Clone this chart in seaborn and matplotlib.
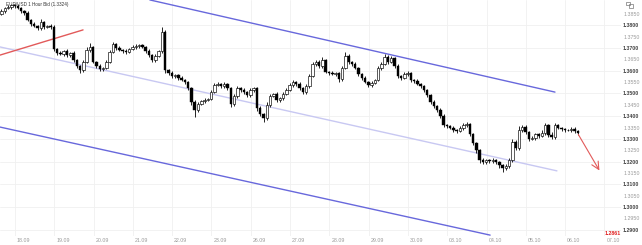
import numpy as np
import pandas as pd
import matplotlib
matplotlib.use("Agg")
import matplotlib.pyplot as plt
import seaborn as sns
from matplotlib.transforms import ScaledTranslation
from matplotlib.patches import Rectangle

# ---------------- data (2-hour candles, EUR/USD) ----------------
first_open = 1.3850
closes = [
    1.3863, 1.3877, 1.3881, 1.3890, 1.3885, 1.3877, 1.3863, 1.3854, 1.3824, 1.3806, 1.3797, 1.3788,
    1.3815, 1.3793, 1.3797, 1.3793, 1.3696, 1.3678, 1.3674, 1.3687, 1.3669, 1.3678, 1.3647, 1.3621,
    1.3603, 1.3639, 1.3692, 1.3705, 1.3639, 1.3621, 1.3608, 1.3612, 1.3639, 1.3683, 1.3718, 1.3700,
    1.3692, 1.3687, 1.3683, 1.3696, 1.3705, 1.3709, 1.3714, 1.3705, 1.3687, 1.3669, 1.3647, 1.3665,
    1.3687, 1.3771, 1.3603, 1.3590, 1.3577, 1.3581, 1.3568, 1.3559, 1.3551, 1.3524, 1.3463, 1.3427,
    1.3454, 1.3467, 1.3471, 1.3476, 1.3507, 1.3537, 1.3542, 1.3533, 1.3542, 1.3524, 1.3454, 1.3489,
    1.3524, 1.3515, 1.3507, 1.3493, 1.3515, 1.3524, 1.3436, 1.3410, 1.3392, 1.3449, 1.3489, 1.3498,
    1.3471, 1.3480, 1.3498, 1.3515, 1.3537, 1.3551, 1.3542, 1.3524, 1.3507, 1.3533, 1.3577, 1.3630,
    1.3639, 1.3621, 1.3647, 1.3595, 1.3590, 1.3586, 1.3590, 1.3564, 1.3612, 1.3665, 1.3639, 1.3630,
    1.3612, 1.3586, 1.3568, 1.3551, 1.3537, 1.3546, 1.3559, 1.3612, 1.3630, 1.3661, 1.3639, 1.3656,
    1.3621, 1.3577, 1.3568, 1.3586, 1.3590, 1.3559, 1.3555, 1.3542, 1.3533, 1.3515, 1.3493, 1.3463,
    1.3445, 1.3427, 1.3401, 1.3361, 1.3357, 1.3348, 1.3339, 1.3335, 1.3348, 1.3361, 1.3365, 1.3321,
    1.3282, 1.3251, 1.3207, 1.3198, 1.3207, 1.3203, 1.3207, 1.3198, 1.3185, 1.3172, 1.3181, 1.3207,
    1.3286, 1.3260, 1.3339, 1.3352, 1.3330, 1.3300, 1.3304, 1.3321, 1.3313, 1.3326, 1.3361, 1.3317,
    1.3308, 1.3361, 1.3348, 1.3343, 1.3339, 1.3339, 1.3343, 1.3335, 1.3324,
]
wick_up_pips = [
    8, 6, 10, 6, 5, 8, 4, 6, 9, 5, 7, 6,
    14, 6, 5, 7, 9, 6, 8, 5, 10, 6, 7, 5,
    6, 8, 12, 18, 6, 5, 7, 6, 8, 10, 9, 6,
    7, 5, 8, 6, 7, 9, 6, 5, 6, 7, 5, 8,
    6, 20, 8, 6, 7, 5, 6, 7, 5, 6, 6, 8,
    7, 6, 8, 5, 10, 9, 7, 6, 8, 5, 6, 9,
    8, 6, 7, 5, 9, 6, 5, 7, 6, 12, 8, 6,
    7, 6, 9, 8, 10, 7, 6, 8, 5, 7, 9, 10,
    8, 7, 14, 6, 5, 7, 6, 5, 8, 16, 7, 6,
    8, 6, 5, 7, 6, 8, 6, 9, 7, 12, 8, 9,
    6, 7, 5, 8, 7, 6, 5, 7, 6, 5, 6, 5,
    6, 5, 7, 8, 6, 5, 7, 6, 8, 7, 9, 6,
    7, 5, 6, 8, 6, 5, 7, 6, 5, 6, 8, 9,
    12, 8, 18, 9, 7, 6, 8, 7, 6, 14, 9, 6,
    12, 7, 5, 6, 7, 6, 8, 10, 6,
]
wick_dn_pips = [
    6, 8, 5, 7, 9, 6, 8, 7, 6, 8, 5, 7,
    8, 9, 6, 7, 8, 10, 6, 8, 7, 9, 8, 10,
    12, 7, 6, 8, 7, 9, 10, 8, 6, 7, 5, 8,
    6, 8, 7, 5, 6, 7, 8, 6, 9, 8, 10, 7,
    6, 8, 12, 9, 7, 8, 10, 6, 8, 9, 14, 30,
    9, 7, 8, 6, 7, 5, 6, 8, 7, 9, 14, 8,
    7, 9, 10, 8, 7, 9, 12, 10, 18, 8, 7, 6,
    9, 8, 7, 6, 5, 8, 7, 9, 10, 8, 7, 6,
    7, 9, 8, 6, 7, 5, 8, 12, 7, 6, 8, 7,
    6, 8, 9, 7, 8, 9, 6, 5, 7, 6, 8, 7,
    9, 8, 7, 6, 8, 9, 7, 6, 8, 9, 7, 8,
    9, 10, 8, 7, 9, 6, 8, 7, 6, 8, 7, 9,
    10, 12, 14, 9, 7, 8, 9, 10, 12, 16, 10, 8,
    10, 9, 7, 8, 9, 10, 7, 8, 9, 6, 8, 9,
    7, 8, 6, 7, 8, 6, 7, 9, 6,
]
date_labels = ["18.09", "19.09", "20.09", "21.09", "22.09", "23.09", "26.09", "27.09",
               "28.09", "29.09", "30.09", "03.10", "04.10", "05.10", "06.10", "07.10"]
date_ticks = [4.1, 16.1, 28.1, 40.1, 52.1, 64.1, 76.1, 88.1,
              100.1, 112.1, 124.1, 136.1, 148.1, 160.1, 172.1, 184.1]
price_major = [1.29, 1.30, 1.31, 1.32, 1.33, 1.34, 1.35, 1.36, 1.37, 1.38]
price_minor = [1.295, 1.305, 1.315, 1.325, 1.335, 1.345, 1.355, 1.365, 1.375, 1.385]

# trend lines (candle index, price)
upper_k, upper_p = [45.3, 169.0], [1.3912, 1.3506]
middle_k, middle_p = [-0.46, 169.6], [1.3705, 1.3159]
lower_k, lower_p = [-0.46, 149.2], [1.3352, 1.2876]
red_k, red_p = [-0.46, 24.9], [1.3669, 1.3780]
arrow_k, arrow_p = [175.7, 183.0], [1.3330, 1.3150]

title = "EUR/USD 1 Hour Bid (1.3324)"
last_marker = "1.2861"

# ---------------- build ----------------
sns.set_theme(style="white")
plt.rcParams["font.family"] = ["Liberation Sans", "DejaVu Sans"]

W, H, DPI = 642, 245, 100
fig = plt.figure(figsize=(W / DPI, H / DPI), dpi=DPI)
fig.patch.set_facecolor("white")
ax = fig.add_axes([0, 9 / H, 621 / W, 236 / H])
ax.set_facecolor("white")

closes_a = np.array(closes)
opens_a = np.concatenate([[first_open], closes_a[:-1]])
hi = np.maximum(opens_a, closes_a) + np.array(wick_up_pips) * 1e-4
lo = np.minimum(opens_a, closes_a) - np.array(wick_dn_pips) * 1e-4
k = np.arange(len(closes_a))
df = pd.DataFrame({"k": k, "open": opens_a, "close": closes_a, "high": hi, "low": lo})

# trend lines via seaborn
lines = pd.DataFrame({
    "k": upper_k + middle_k + lower_k + red_k,
    "price": upper_p + middle_p + lower_p + red_p,
    "line": ["upper"] * 2 + ["middle"] * 2 + ["lower"] * 2 + ["red"] * 2,
})
pal = {"upper": "#6868dc", "middle": "#c8c8f2", "lower": "#6868dc", "red": "#e25a5a"}
sns.lineplot(data=lines, x="k", y="price", hue="line", palette=pal, legend=False,
             estimator=None, sort=False, ax=ax, linewidth=1.0, zorder=2)

# candles
ax.vlines(df["k"], df["low"], df["high"], color="black", linewidth=0.6, zorder=3)
down = df[df["close"] < df["open"]]
up = df[df["close"] >= df["open"]]
ax.bar(down["k"], down["open"] - down["close"], bottom=down["close"], width=0.75,
       color="black", edgecolor="black", linewidth=0.3, zorder=4)
ax.bar(up["k"], (up["close"] - up["open"]).clip(lower=0.00005), bottom=up["open"], width=0.75,
       color="white", edgecolor="black", linewidth=0.45, zorder=4)

# red arrow
ax.annotate("", xy=(arrow_k[1], arrow_p[1]), xytext=(arrow_k[0], arrow_p[0]),
            arrowprops=dict(arrowstyle="->,head_length=0.45,head_width=0.22",
                            color="#e25a5a", lw=0.8), zorder=5, annotation_clip=False)

ax.set_xlim(-0.458, 189.16)
ax.set_ylim(1.28721, 1.39117)
ax.set_xlabel("")
ax.set_ylabel("")

# y axis on right
ax.yaxis.tick_right()
ax.set_yticks(price_major, labels=[f"{v:.4f}" for v in price_major])
ax.set_yticks(price_minor, labels=[f"{v:.4f}" for v in price_minor], minor=True)
ax.tick_params(axis="y", which="both", length=0, pad=1.5, labelsize=3.8,
               labelright=True, labelleft=False)
ax.tick_params(axis="y", which="major", labelcolor="#444444")
ax.tick_params(axis="y", which="minor", labelcolor="#9a9a9a")
for t in ax.get_yticklabels():
    t.set_fontweight("bold")

# x axis dates
ax.set_xticks(date_ticks, labels=date_labels)
ax.tick_params(axis="x", length=0, pad=1.2, labelsize=3.8, labelcolor="#9a9a9a")
off = ScaledTranslation(2 / DPI, 0, fig.dpi_scale_trans)
for t in ax.get_xticklabels():
    t.set_ha("left")
    t.set_transform(t.get_transform() + off)

ax.grid(True, which="major", color="#f0f0f0", linewidth=0.6, zorder=0)
ax.set_axisbelow(True)
sns.despine(ax=ax, left=True, right=True, top=True, bottom=True)

# texts
fig.text(6 / W, 1 - 4.5 / H, title, fontsize=3.3, color="#333333", va="center", ha="left")
fig.text(605 / W, 1 - 233.5 / H, last_marker, fontsize=3.8, color="#e02020",
         fontweight="bold", va="center", ha="left")

# small window icon top right
for (x0, y0) in [(626, 2), (629, 4.5)]:
    fig.patches.append(Rectangle((x0 / W, 1 - (y0 + 3.5) / H), 3.5 / W, 3.5 / H,
                                 transform=fig.transFigure, fill=False,
                                 edgecolor="#777777", linewidth=0.5))

fig.savefig("out.png", dpi=DPI, facecolor="white")
